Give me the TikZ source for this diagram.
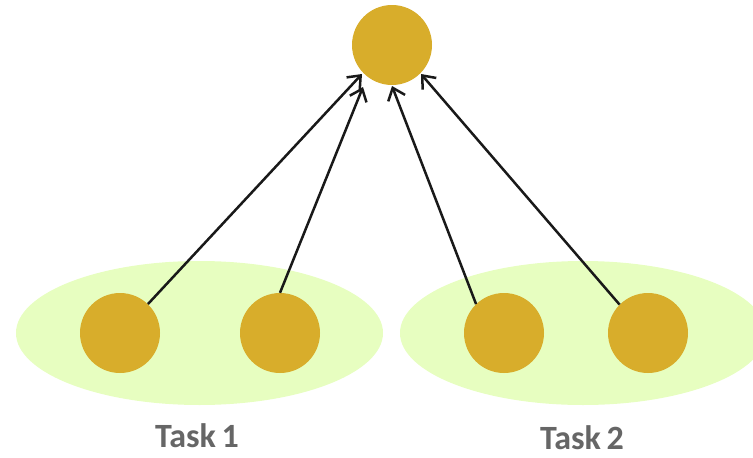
\documentclass[tikz,border=0pt]{standalone}
\usepackage{fontspec}
\setmainfont{Carlito}
\usetikzlibrary{arrows.meta}
\definecolor{gold}{HTML}{D8AD2B}
\definecolor{taskbg}{HTML}{E7FEC0}
\definecolor{labelgrey}{HTML}{666666}
\tikzset{
  unit/.style={circle, fill=gold, draw=none, minimum size=80pt, inner sep=0pt},
  link/.style={line width=2.5pt, black!90, -{Straight Barb[length=11pt,width=18pt,line width=2.5pt]}},
  tasklabel/.style={text=labelgrey, font=\fontsize{34}{38}\selectfont\bfseries, inner sep=0pt, anchor=base}
}
\begin{document}
\begin{tikzpicture}[x=1pt,y=-1pt]
\useasboundingbox (0,0) rectangle (753,458);
\fill[taskbg] (199.5,333) ellipse [x radius=183.5, y radius=72];
\fill[taskbg] (583,333) ellipse [x radius=183, y radius=72];
\node[unit] (top) at (392,45) {};
\node[unit] (a) at (120,333) {};
\node[unit] (b) at (280,333) {};
\node[unit] (c) at (504,333) {};
\node[unit] (d) at (648,333) {};
\coordinate (t1) at (362,74);
\coordinate (t2) at (363,87);
\coordinate (t3) at (392,86);
\coordinate (t4) at (421,74);
\draw[link] (a.46) -- (t1);
\draw[link] (b.90) -- (t2);
\draw[link] (c.134) -- (t3);
\draw[link] (d.135) -- (t4);
\node[tasklabel] (l1) at (197,447) {Task\,1};
\node[tasklabel] (l2) at (582,449) {Task\,2};
\end{tikzpicture}
\end{document}
